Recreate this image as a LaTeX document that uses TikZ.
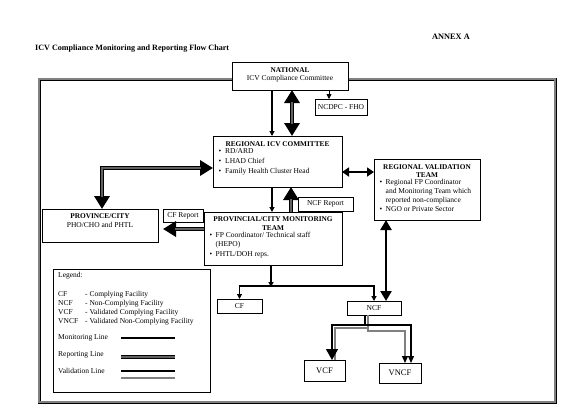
\documentclass[tikz,border=0pt]{standalone}
\usepackage{fontspec}
\setmainfont{Liberation Serif}
\usetikzlibrary{arrows.meta,calc}
\tikzset{
 TS/.tip={Triangle[length=5pt,width=5pt]},
 TM/.tip={Triangle[length=7pt,width=9pt]},
 TL/.tip={Triangle[length=10pt,width=11pt]},
 TB/.tip={Triangle[length=13pt,width=15pt]},
}
\begin{document}
\begin{tikzpicture}[x=1pt,y=-1pt,
 box/.style={draw=black, line width=0.6pt, fill=white, inner sep=0pt, outer sep=0pt, anchor=north west, font=\fontsize{7.5}{9}\selectfont},
 txt/.style={inner sep=0pt, font=\fontsize{7.5}{9}\selectfont},
 ttl/.style={inner sep=0pt, font=\fontsize{7.3}{8.6}\selectfont\bfseries},
 mon/.style={draw=black, line width=1.1pt},
 monk/.style={draw=black, line width=2.4pt},
 rep/.style={draw=black, line width=4.2pt, postaction={draw=black!62, line width=1.6pt, -, #1}},
 rep/.default={},
 valb/.style={draw=black, line width=1.3pt},
 valg/.style={draw=black!50, line width=1.3pt},
]
\useasboundingbox (0,0) rectangle (572,418);
\fill[white] (0,0) rectangle (572,418);

% frame
\draw[draw=black, double=black!50, line width=0.9pt, double distance=1.2pt] (39,79) rectangle (555,402);

% headings
\node[inner sep=0pt, anchor=west, font=\fontsize{8.1}{10}\selectfont\bfseries] (title) at (35,49) {ICV Compliance Monitoring and Reporting Flow Chart};
\node[inner sep=0pt, anchor=east, font=\fontsize{8.3}{10}\selectfont\bfseries] (annex) at (470,37) {ANNEX A};

% boxes
\node[box, minimum width=116pt, minimum height=28pt] (nat) at (232,62) {};
\node[ttl] (natt) at (290,70) {NATIONAL};
\node[txt] (natb) at (290,79) {ICV Compliance Committee};

\node[box, minimum width=52pt, minimum height=16pt] (ncdpc) at (315,99) {NCDPC - FHO};

\node[box, minimum width=129pt, minimum height=51pt] (reg) at (213,136) {};
\node[ttl] (regt) at (277.5,144.5) {REGIONAL ICV COMMITTEE};
\node[txt, anchor=north west, align=left, font=\fontsize{7.5}{10}\selectfont] (regb) at (218.5,148.5) {\makebox[6.5pt][l]{\textbullet}RD/ARD\\\makebox[6.5pt][l]{\textbullet}LHAD Chief\\\makebox[6.5pt][l]{\textbullet}Family Health Cluster Head};

\node[box, minimum width=106pt, minimum height=61pt] (val) at (374,159) {};
\node[ttl, align=center] (valt) at (427,171) {REGIONAL VALIDATION\\TEAM};
\node[txt, anchor=north west, align=left, font=\fontsize{7.5}{9}\selectfont] (valb) at (379.5,179.5) {\makebox[6pt][l]{\textbullet}Regional FP Coordinator\\\hspace*{6pt}and Monitoring Team which\\\hspace*{6pt}reported non-compliance\\\makebox[6pt][l]{\textbullet}NGO or Private Sector};

\node[box, minimum width=116pt, minimum height=33pt] (prov) at (42,209) {};
\node[ttl] (provt) at (100,216) {PROVINCE/CITY};
\node[txt] (provb) at (100,224.5) {PHO/CHO and PHTL};

\node[box, minimum width=40pt, minimum height=13pt] (cfr) at (163,209) {CF Report};

\node[box, minimum width=138pt, minimum height=53pt] (mon) at (204,212) {};
\node[ttl, align=center] (mont) at (273,223.5) {PROVINCIAL/CITY MONITORING\\TEAM};
\node[txt, anchor=north west, align=left, font=\fontsize{7.5}{8.5}\selectfont] (monb) at (209.5,232.5) {\makebox[6pt][l]{\textbullet}FP Coordinator/ Technical staff\\\hspace*{6pt}(HEPO)\\[1.5pt]\makebox[6pt][l]{\textbullet}PHTL/DOH reps.};

\node[box, minimum width=55pt, minimum height=14pt] (ncfr) at (298,197) {NCF Report};

\node[box, minimum width=157pt, minimum height=123pt] (leg) at (53,269) {};
\node[txt, anchor=west] (legt) at (58,275.5) {Legend:};
\node[txt, anchor=north west, align=left, font=\fontsize{7.5}{9}\selectfont] (legab) at (58,290) {\begin{tabular}{@{}p{27pt}@{}l@{}}CF & - Complying Facility\\NCF & - Non-Complying Facility\\VCF & - Validated Complying Facility\\VNCF & - Validated Non-Complying Facility\end{tabular}};
\node[txt, anchor=west] (lm) at (58,338) {Monitoring Line};
\node[txt, anchor=west] (lr) at (58,354.5) {Reporting Line};
\node[txt, anchor=west] (lv) at (58,371) {Validation Line};
\draw[mon, line width=1.7pt] (121,338) -- (175,338);
\draw[rep] (121,357) -- (175,357);
\draw[valb, line width=1.6pt] (121,371) -- (175,371);
\draw[valg, line width=1.6pt] (121,378) -- (175,378);

\node[box, minimum width=45pt, minimum height=14pt] (cf) at (217,299) {CF};
\node[box, minimum width=54pt, minimum height=14pt] (ncf) at (347,301) {NCF};
\node[box, minimum width=41pt, minimum height=21pt, font=\fontsize{8.5}{10}\selectfont] (vcf) at (304,360) {VCF};
\node[box, minimum width=42pt, minimum height=20pt, font=\fontsize{8.5}{10}\selectfont] (vncf) at (379,363) {VNCF};

% connectors
\draw[mon, -TS] ([xshift=40pt]nat.south west) -- ([xshift=40pt]nat.south west |- reg.north);
\draw[rep={shorten <=12pt, shorten >=12pt}, TB-TB] ([xshift=60pt]nat.south west) -- ([xshift=60pt]nat.south west |- reg.north);
\draw[mon, line width=0.8pt, -TS] ([xshift=14pt]ncdpc.north west |- nat.south) -- ([xshift=14pt]ncdpc.north west);

\draw[monk, TM-TM] ([yshift=-36pt]reg.north east) -- ([yshift=-36pt]reg.north east -| val.west);
\draw[rep={shorten <=12pt, shorten >=12pt}, TB-TB] ([yshift=-32pt]reg.north west) -| ([xshift=60pt]prov.north west);
\draw[rep={shorten >=12pt}, -TB] ([yshift=-17pt]mon.north west) -- ([yshift=-17pt]mon.north west -| cfr.west);

\draw[mon, -TS] ([xshift=59pt]reg.south west) -- ([xshift=59pt]reg.south west |- mon.north);
\draw[rep={shorten >=12pt}, -TB] ([xshift=78pt]reg.south west |- mon.north) -- ([xshift=78pt]reg.south west);

\coordinate (hl) at (0,286);
\draw[mon, -TS] ([xshift=67pt]mon.south west) -- ([xshift=67pt,yshift=-1pt]mon.south west |- hl);
\draw[mon, TS-TS] (cf.north) |- (ncf.north |- hl) -- (ncf.north);

\draw[monk, line width=2.8pt, TL-TL] ([xshift=12pt]val.south west) -- ([xshift=12pt]val.south west |- ncf.north);

% validation lines
\draw[valg] ([xshift=21pt]ncf.south west) -- ++(0,13) -| ([xshift=31pt]vcf.north west);
\draw[valg, -{Triangle[length=7pt,width=6pt,color=black]}] ([xshift=21pt]ncf.south west) -- ++(0,16) -| ([xshift=26pt]vncf.north west);
\draw[valb, -{Triangle[length=11pt,width=12pt]}] ([xshift=18pt]ncf.south west) -- ++(0,10) -| ([xshift=28pt]vcf.north west);
\draw[valb, -{Triangle[length=7pt,width=6pt]}] ([xshift=18pt]ncf.south west) -- ++(0,10) -| ([xshift=32pt]vncf.north west);
\end{tikzpicture}
\end{document}
